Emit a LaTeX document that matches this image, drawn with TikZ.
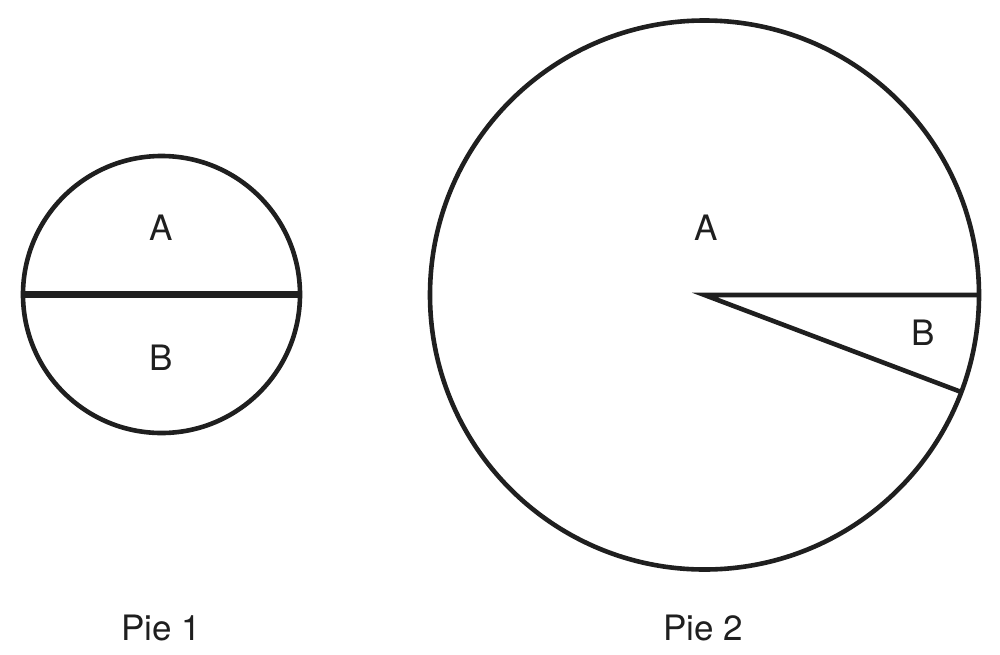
\documentclass[tikz,border=0pt]{standalone}
\usepackage{fontspec}
\setmainfont{TeX Gyre Heros}
\usetikzlibrary{calc}
\begin{document}
\begin{tikzpicture}[x=1pt,y=-1pt,
  pie/.style={draw=black!88,line width=4.6pt},
  lbl/.style={font=\fontsize{35}{40}\selectfont,text=black!88,inner sep=0pt}]
\useasboundingbox (0,0) rectangle (1000,654);
% Pie 1
\coordinate (c1) at (161.5,294.5);
\draw[pie] (c1) circle[radius=138.5];
\coordinate (l1) at (23,294.5);
\coordinate (r1) at (300,294.5);
\draw[draw=black!88,line width=6.5pt] (l1) -- (r1);
\node[lbl] (a1) at (161,228) {A};
\node[lbl] (b1) at (161,358) {B};
\node[lbl] (p1) at (161,628) {Pie 1};
% Pie 2
\coordinate (c2) at (704.5,295);
\draw[pie] (c2) circle[radius=274.5];
\coordinate (e1) at ($(c2)+(274.5,0)$);
\draw[pie,line join=miter] (e1) -- (c2) -- ++(20.7:274.5);
\node[lbl] (a2) at (706,228) {A};
\node[lbl] (b2) at (923,333) {B};
\node[lbl] (p2) at (703,628) {Pie 2};
\end{tikzpicture}
\end{document}
